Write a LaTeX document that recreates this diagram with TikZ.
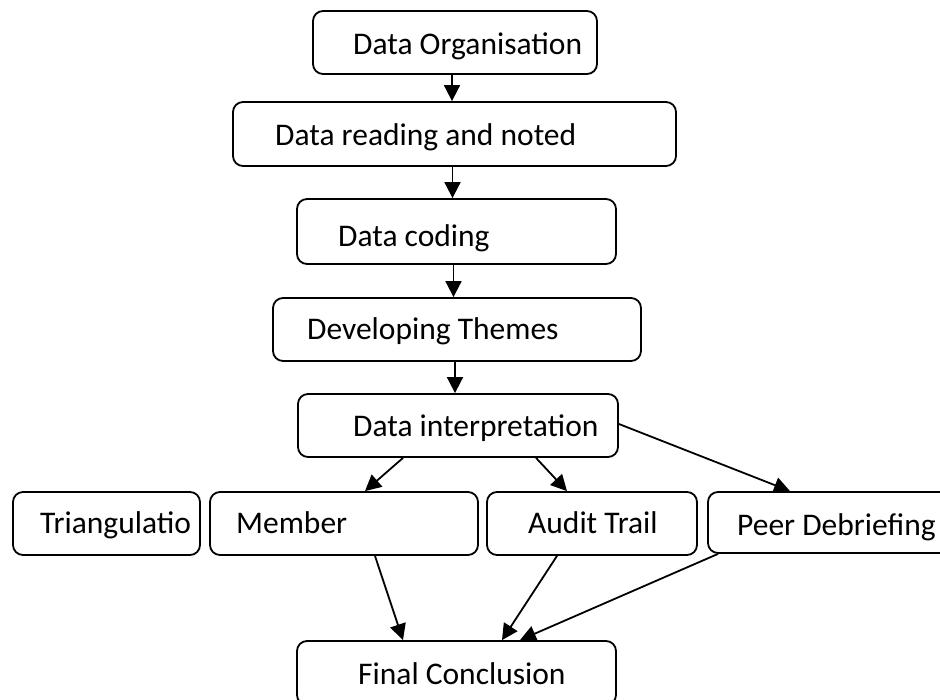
\documentclass[tikz,border=0pt]{standalone}
\usepackage{fontspec}
\setmainfont{Carlito}
\usetikzlibrary{arrows.meta}
\begin{document}
\begin{tikzpicture}[x=1pt,y=-1pt,
  box/.style={draw, rectangle, rounded corners=10pt, line width=1.8pt, inner sep=0pt},
  txt/.style={anchor=base west, inner sep=0pt, font=\fontsize{31.5}{37}\selectfont},
  arr/.style={line width=1.8pt, -{Triangle[length=16pt,width=16pt]}}]
\useasboundingbox (0,0) rectangle (940,700);
\clip (0,0) rectangle (940,700);
% boxes
\node[box, minimum width=284pt, minimum height=63pt] (org) at (455,42.5) {};
\node[box, minimum width=443pt, minimum height=64pt] (read) at (454.5,134) {};
\node[box, minimum width=319pt, minimum height=65pt] (cod) at (456.5,231.5) {};
\node[box, minimum width=368pt, minimum height=63pt] (them) at (457,329.5) {};
\node[box, minimum width=320pt, minimum height=63pt] (interp) at (458,425.5) {};
\node[box, minimum width=187pt, minimum height=63pt] (tri) at (106.5,523.5) {};
\node[box, minimum width=268pt, minimum height=63pt] (mem) at (344,523.5) {};
\node[box, minimum width=210pt, minimum height=63pt] (aud) at (592,523.5) {};
\node[box, minimum width=252pt, minimum height=61pt] (peer) at (834,522.5) {};
\node[box, minimum width=319pt, minimum height=64pt] (fin) at (456.5,673) {};
% texts
\node[txt] (orgT) at (353,55) {Data Organisation};
\node[txt] (readT) at (275,146) {Data reading and noted};
\node[txt] (codT) at (338,247) {Data coding};
\node[txt] (themT) at (307,340) {Developing Themes};
\node[txt] (interpT) at (353,436) {Data interpretation};
\node[txt] (triT) at (40,533) {Triangulatio};
\node[txt] (memT) at (236,533) {Member};
\node[txt] (audT) at (528,533) {Audit Trail};
\node[txt] (peerT) at (737,535) {Peer Debriefing};
\node[txt] (finT) at (358,684) {Final Conclusion};
% connectors
\draw[arr] ([xshift=-3pt]org.south) -- ([xshift=-3pt]org.south |- read.north);
\draw[arr] ([xshift=-2pt]read.south) -- ([xshift=-2pt]read.south |- cod.north);
\draw[arr] ([xshift=-3pt]cod.south) -- ([xshift=-3pt]cod.south |- them.north);
\draw[arr] ([xshift=-2pt]them.south) -- ([xshift=-2pt]them.south |- interp.north);
\draw[arr] ([xshift=-55pt]interp.south) -- ([xshift=21pt]mem.north);
\draw[arr] ([xshift=78pt]interp.south) -- ([xshift=-25pt]aud.north);
\draw[arr] ([yshift=1.5pt]interp.east) -- ([xshift=-44pt]peer.north);
\draw[arr] ([xshift=31pt]mem.south) -- ([xshift=-53.5pt]fin.north);
\draw[arr] ([xshift=-35pt]aud.south) -- ([xshift=45.5pt]fin.north);
\draw[arr] ([xshift=-116pt]peer.south) -- ([xshift=63.5pt]fin.north);
\end{tikzpicture}
\end{document}
